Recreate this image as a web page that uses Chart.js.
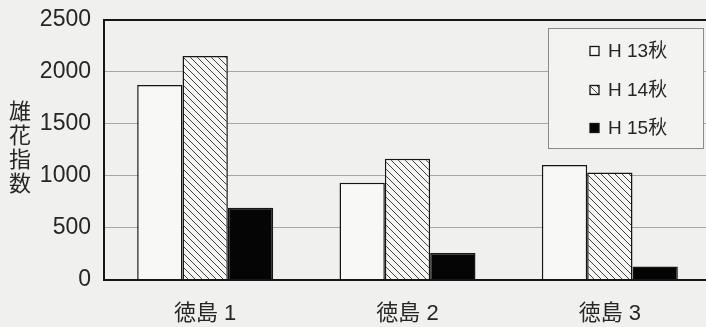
<!DOCTYPE html>
<html>
<head>
<meta charset="utf-8">
<script src="https://cdn.jsdelivr.net/npm/chart.js@4/dist/chart.umd.min.js"></script>
<style>
  html, body { margin: 0; padding: 0; background: #f0f0ee; overflow: hidden; width: 706px; height: 327px; }
  canvas { display: block; }
</style>
</head>
<body>
<canvas id="c" width="711" height="327"></canvas>
<script>
// ---- data ----
const categories = ['徳島 1', '徳島 2', '徳島 3'];
const seriesLabels = ['H 13秋', 'H 14秋', 'H 15秋'];
const h13 = [1870, 930, 1100];
const h14 = [2150, 1160, 1030];
const h15 = [690, 255, 125];
const yTicks = [0, 500, 1000, 1500, 2000, 2500];
const yTitle = ['雄', '花', '指', '数'];

// ---- styles ----
const BG = '#f0f0ee';
const INK = '#161616';
const TEXT = '#262626';
const FONT = "'Liberation Sans', 'Noto Sans CJK JP', sans-serif";

function hatch() {
  const s = 7;
  const p = document.createElement('canvas');
  p.width = s; p.height = s;
  const g = p.getContext('2d');
  g.fillStyle = '#f6f6f4';
  g.fillRect(0, 0, s, s);
  g.strokeStyle = '#404040';
  g.lineWidth = 1;
  for (const k of [-s, 0, s]) {
    g.beginPath();
    g.moveTo(k, 0);
    g.lineTo(k + s, s);
    g.stroke();
  }
  return g.createPattern(p, 'repeat');
}
const hatchPattern = hatch();
const fills = ['#f8f8f6', hatchPattern, '#050505'];

const bgPlugin = {
  id: 'bg',
  beforeDraw(chart) {
    const { ctx, width, height } = chart;
    ctx.save();
    ctx.fillStyle = BG;
    ctx.fillRect(0, 0, width, height);
    ctx.restore();
  }
};

const extrasPlugin = {
  id: 'extras',
  afterDraw(chart) {
    const ctx = chart.ctx;
    ctx.save();
    // vertical y-axis title
    ctx.fillStyle = TEXT;
    ctx.font = '22px ' + FONT;
    ctx.textAlign = 'center';
    ctx.textBaseline = 'middle';
    yTitle.forEach((ch, i) => ctx.fillText(ch, 20, 113 + i * 24));

    // legend box
    ctx.fillStyle = '#f3f3f1';
    ctx.fillRect(548, 28, 155, 120);
    ctx.strokeStyle = '#8a8a8a';
    ctx.lineWidth = 1;
    ctx.strokeRect(548.5, 28.5, 155, 120);
    const rows = [51, 90, 128];
    chart.data.datasets.forEach((ds, i) => {
      const y = rows[i];
      ctx.fillStyle = fills[i];
      ctx.fillRect(590, y - 4.5, 9, 9);
      ctx.strokeStyle = INK;
      ctx.lineWidth = 1.3;
      ctx.strokeRect(590, y - 4.5, 9, 9);
      ctx.fillStyle = TEXT;
      ctx.font = '19px ' + FONT;
      ctx.textAlign = 'left';
      ctx.textBaseline = 'middle';
      ctx.fillText(ds.label, 608, y + 1);
    });
    ctx.restore();
  }
};

new Chart(document.getElementById('c'), {
  type: 'bar',
  data: {
    labels: categories,
    datasets: [h13, h14, h15].map((vals, i) => ({
      label: seriesLabels[i],
      data: vals,
      backgroundColor: fills[i],
      borderColor: INK,
      borderWidth: 1.5,
      categoryPercentage: 0.672,
      barPercentage: 1.0
    }))
  },
  options: {
    responsive: false,
    animation: false,
    devicePixelRatio: 1,
    layout: { padding: { top: 19.5, left: 0, right: 0, bottom: 0 } },
    plugins: { legend: { display: false }, tooltip: { enabled: false } },
    scales: {
      x: {
        grid: { display: false, drawTicks: false },
        border: { display: true, color: INK, width: 2 },
        ticks: { color: TEXT, font: { family: FONT, size: 22 }, padding: 21, maxRotation: 0 },
        afterFit(scale) { scale.height = 47.5; scale.paddingLeft = 0; scale.paddingRight = 0; }
      },
      y: {
        min: 0,
        max: 2500,
        afterBuildTicks(scale) { scale.ticks = yTicks.map(v => ({ value: v })); },
        grid: {
          drawTicks: false,
          color: ctx => (ctx.tick && ctx.tick.value === 2500) ? INK : '#a4a4ac',
          lineWidth: ctx => (ctx.tick && ctx.tick.value === 2500) ? 2 : 1
        },
        border: { display: true, color: INK, width: 2 },
        ticks: { color: TEXT, font: { family: FONT, size: 23 }, padding: 13, callback: v => String(v) },
        afterFit(scale) { scale.width = 104; scale.paddingTop = 0; scale.paddingBottom = 0; }
      }
    }
  },
  plugins: [bgPlugin, extrasPlugin]
});
</script>
</body>
</html>
